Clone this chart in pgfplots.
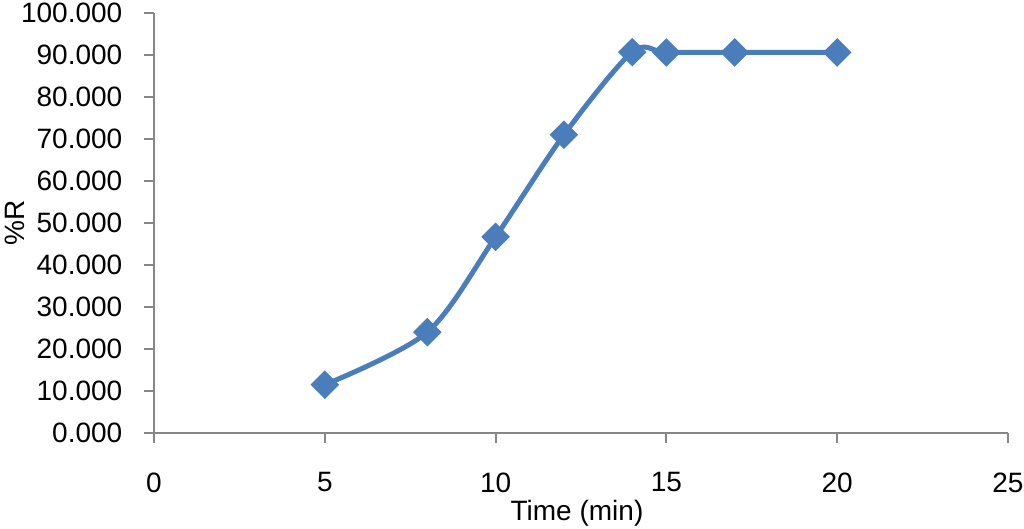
\documentclass[border=0pt]{standalone}
\usepackage{pgfplots}
\pgfplotsset{compat=1.18}
\usepackage{fontspec}
\setmainfont{Liberation Sans}
\usetikzlibrary{calc}
\definecolor{linecolor}{HTML}{4A7EBB}
\definecolor{axiscolor}{HTML}{868686}
\begin{document}
\fontsize{14}{16}\selectfont
\begin{tikzpicture}
\begin{axis}[
    name=ax,
    width=427pt, height=210pt,
    scale only axis,
    xmin=0, xmax=25, ymin=0, ymax=100,
    axis lines*=left,
    axis line style={axiscolor, line width=1pt},
    xtick={0,5,...,25},
    ytick={0,10,...,100},
    tick align=outside,
    major tick length=5pt,
    tick style={axiscolor, line width=1pt},
    /pgf/number format/assume math mode=true,
    yticklabel style={xshift=-6pt, /pgf/number format/.cd, fixed, zerofill, precision=3},
    xticklabel style={yshift=-10pt},
    xlabel={Time (min)},
    ylabel={\%R},
    xlabel style={at={(axis description cs:0.5,0)}, anchor=center, yshift=-40pt, xshift=-2pt},
    ylabel style={at={(axis description cs:0,0.5)}, anchor=center, yshift=69.5pt},
    clip=false,
]
\addplot[linecolor, line width=2.5pt, smooth,
    mark=square*, mark size=3.8pt, mark options={rotate=45, solid, fill=linecolor}]
    coordinates {(5,11.5) (8,24.0) (10,46.7) (12,71.0) (14,90.7) (15,90.6) (17,90.6) (20,90.6)};
\end{axis}
\pgfresetboundingbox
\path ($(ax.south west)+(-77pt,-48pt)$) rectangle ($(ax.north east)+(8pt,6.5pt)$);
\end{tikzpicture}
\end{document}
